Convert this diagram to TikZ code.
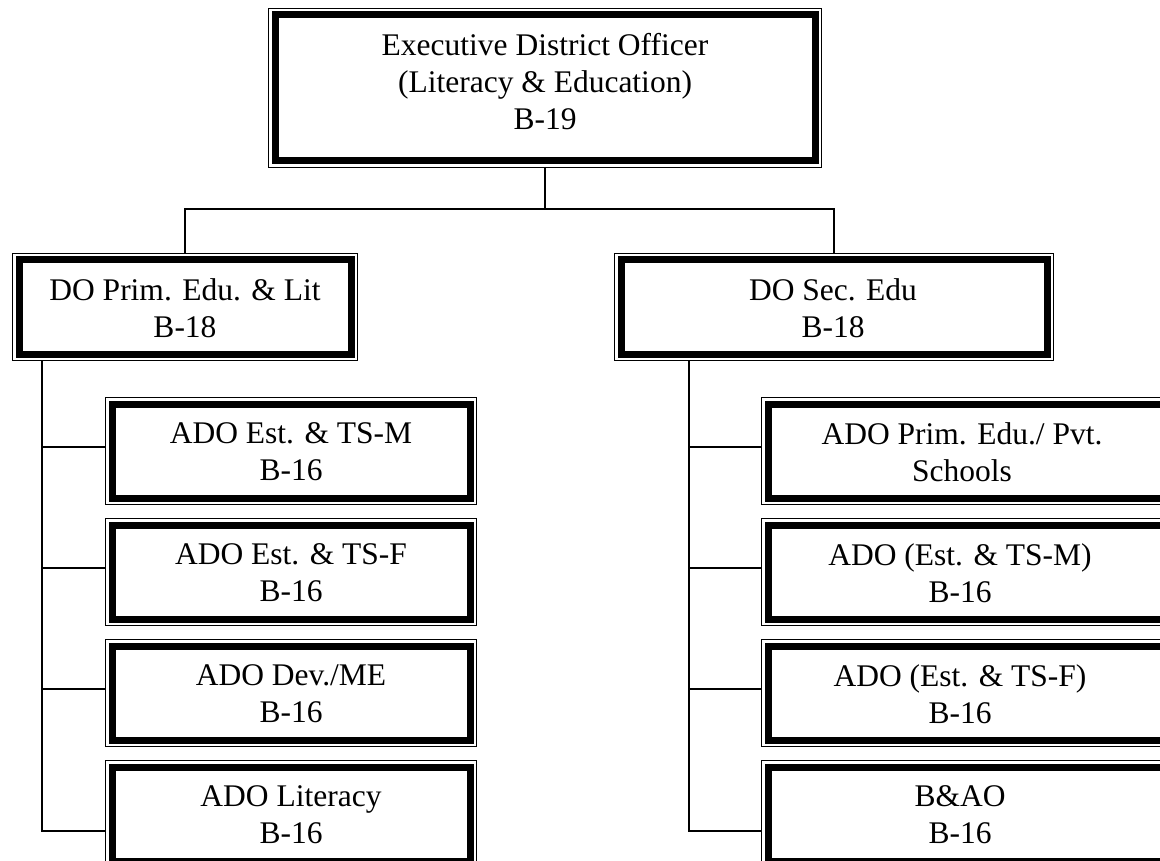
\documentclass[tikz,border=0pt]{standalone}
\usepackage{fontspec}
\setmainfont{Liberation Serif}
\begin{document}
\begin{tikzpicture}[x=1pt,y=-1pt,
  box/.style={inner sep=0pt, outer sep=0pt, anchor=north west},
  lbl/.style={align=center, inner sep=0pt, anchor=north,
    font=\fontsize{31.5}{37}\selectfont,
    execute at begin node={\rule{0pt}{24pt}}},
  conn/.style={draw=black, line width=1.6pt}]
\useasboundingbox (0,0) rectangle (1160,861);
\clip (0,0) rectangle (1160,861);

% frames (outer corner, size)
\node[box, minimum width=554pt, minimum height=160pt] (top) at (268,8) {};
\node[box, minimum width=346pt, minimum height=108pt] (dop) at (12,253) {};
\node[box, minimum width=440pt, minimum height=108pt] (dos) at (614,253) {};
\node[box, minimum width=372pt, minimum height=108pt] (l1) at (105,397) {};
\node[box, minimum width=372pt, minimum height=108pt] (l2) at (105,518) {};
\node[box, minimum width=372pt, minimum height=108pt] (l3) at (105,639) {};
\node[box, minimum width=372pt, minimum height=108pt] (l4) at (105,760) {};
\node[box, minimum width=414pt, minimum height=108pt] (r1) at (761,397) {};
\node[box, minimum width=414pt, minimum height=108pt] (r2) at (761,518) {};
\node[box, minimum width=414pt, minimum height=108pt] (r3) at (761,639) {};
\node[box, minimum width=414pt, minimum height=108pt] (r4) at (761,760) {};

% thin outer line and thick inner line of every frame
\foreach \n in {top,dop,dos,l1,l2,l3,l4,r1,r2,r3,r4} {
  \draw[line width=1.2pt] ([shift={(0.6pt,-0.6pt)}]\n.north west) rectangle ([shift={(-0.6pt,0.6pt)}]\n.south east);
  \draw[line width=7pt] ([shift={(7pt,-7pt)}]\n.north west) rectangle ([shift={(-7pt,7pt)}]\n.south east);
}

% labels (first baseline 49pt below the frame top)
\node[lbl] (topt) at (545,33) {Executive District Officer\\(Literacy \& Education)\\B-19};
\node[lbl] (dopt) at (185,278) {DO Prim. Edu. \& Lit\\B-18};
\node[lbl] (dost) at (833,278) {DO Sec. Edu\\B-18};
\node[lbl] (l1t) at (291,422) {ADO Est. \& TS-M\\B-16};
\node[lbl] (l2t) at (291,543) {ADO Est. \& TS-F\\B-16};
\node[lbl] (l3t) at (291,664) {ADO Dev./ME\\B-16};
\node[lbl] (l4t) at (291,785) {ADO Literacy\\B-16};
\node[lbl] (r1t) at (962,422) {ADO Prim. Edu./ Pvt.\\Schools};
\node[lbl] (r2t) at (960,543) {ADO (Est. \& TS-M)\\B-16};
\node[lbl] (r3t) at (960,664) {ADO (Est. \& TS-F)\\B-16};
\node[lbl] (r4t) at (960,785) {B\&AO\\B-16};

% connectors
\coordinate (bus) at (545,209);
\coordinate (lv) at (42,0);
\coordinate (rv) at (689,0);
\coordinate (l4c) at (105,831);
\coordinate (r4c) at (761,831);
\draw[conn] (top.south) -- (bus);
\draw[conn] (dop.north) |- (bus) -| (dos.north);
\draw[conn] (lv |- dop.south) |- (l4c);
\draw[conn] (rv |- dos.south) |- (r4c);
\draw[conn] (lv |- l1.north) ++(0,-50pt) coordinate (lc1) -- (lc1 -| l1.west);
\draw[conn] (lv |- l2.north) ++(0,-50pt) coordinate (lc2) -- (lc2 -| l2.west);
\draw[conn] (lv |- l3.north) ++(0,-50pt) coordinate (lc3) -- (lc3 -| l3.west);
\draw[conn] (rv |- r1.north) ++(0,-50pt) coordinate (rc1) -- (rc1 -| r1.west);
\draw[conn] (rv |- r2.north) ++(0,-50pt) coordinate (rc2) -- (rc2 -| r2.west);
\draw[conn] (rv |- r3.north) ++(0,-50pt) coordinate (rc3) -- (rc3 -| r3.west);
\end{tikzpicture}
\end{document}
